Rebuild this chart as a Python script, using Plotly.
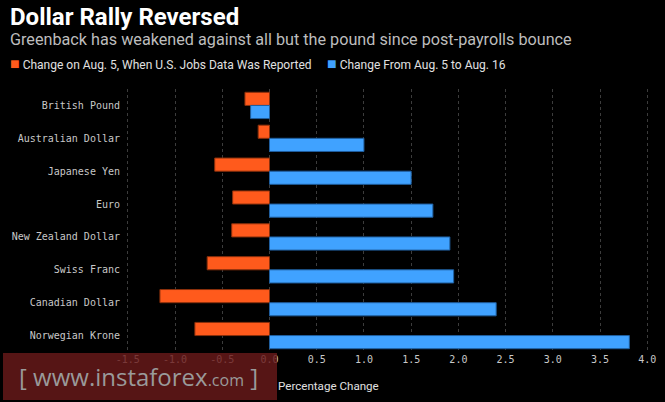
import plotly.graph_objects as go

currencies = ["British Pound", "Australian Dollar", "Japanese Yen", "Euro",
              "New Zealand Dollar", "Swiss Franc", "Canadian Dollar", "Norwegian Krone"]
aug5_change = [-0.26, -0.12, -0.58, -0.39, -0.40, -0.66, -1.16, -0.79]
aug5_to_16_change = [-0.20, 1.00, 1.50, 1.73, 1.91, 1.95, 2.40, 3.81]
x_ticks = [-1.5, -1.0, -0.5, 0.0, 0.5, 1.0, 1.5, 2.0, 2.5, 3.0, 3.5, 4.0]

W, H = 665, 402
L, R, T, B = 125, 13, 89, 50
PW, PH = W - L - R, H - T - B

def px(x):
    return (x - L) / PW

def py(y):
    return (H - B - y) / PH

ORANGE = "#ff5a1c"
BLUE = "#40a2ff"

fig = go.Figure()
fig.add_trace(go.Bar(y=currencies, x=aug5_change, orientation="h",
                     name="Change on Aug. 5, When U.S. Jobs Data Was Reported",
                     marker=dict(color=ORANGE, line=dict(color="#8a300c", width=1))))
fig.add_trace(go.Bar(y=currencies, x=aug5_to_16_change, orientation="h",
                     name="Change From Aug. 5 to Aug. 16",
                     marker=dict(color=BLUE, line=dict(color="#1f5e9e", width=1))))

fig.update_layout(
    width=W, height=H,
    margin=dict(l=L, r=R, t=T, b=B, autoexpand=False),
    paper_bgcolor="black", plot_bgcolor="black",
    barmode="group", bargap=0.2, bargroupgap=0,
    showlegend=False,
    font=dict(family="DejaVu Sans Mono", size=10, color="#c8c8c8"),
)
fig.update_xaxes(range=[-1.53, 4.05], tickvals=x_ticks,
                 ticktext=[f"{v:.1f}" for v in x_ticks],
                 showgrid=True, gridcolor="#3c3c3c", griddash="dot", gridwidth=1,
                 zeroline=False, showline=False, ticks="", automargin=False)
fig.update_yaxes(autorange="reversed", showgrid=False, zeroline=False,
                 ticks="", ticklabelstandoff=4, automargin=False)

# titles
fig.add_annotation(text="<b>Dollar Rally Reversed</b>", xref="paper", yref="paper",
                   x=px(8), y=py(1), xanchor="left", yanchor="top", showarrow=False,
                   font=dict(family="Roboto", size=24, color="white"))
fig.add_annotation(text="Greenback has weakened against all but the pound since post-payrolls bounce",
                   xref="paper", yref="paper", x=px(8), y=py(28), xanchor="left", yanchor="top",
                   showarrow=False, font=dict(family="Roboto", size=16.2, color="#bdbdbd"))

# legend
fig.add_annotation(text=f"<span style='color:{ORANGE};font-size:16px'>■</span> Change on Aug. 5, When U.S. Jobs Data Was Reported",
                   xref="paper", yref="paper", x=px(8), y=py(52), xanchor="left", yanchor="top",
                   showarrow=False, font=dict(family="Roboto", size=12, color="#e0e0e0"))
fig.add_annotation(text=f"<span style='color:{BLUE};font-size:16px'>■</span> Change From Aug. 5 to Aug. 16",
                   xref="paper", yref="paper", x=px(325), y=py(52), xanchor="left", yanchor="top",
                   showarrow=False, font=dict(family="Roboto", size=12, color="#e0e0e0"))

# x axis title
fig.add_annotation(text="Percentage Change", xref="paper", yref="paper",
                   x=px(276), y=py(377), xanchor="left", yanchor="top", showarrow=False,
                   font=dict(family="Roboto", size=11.6, color="#e0e0e0"))

# watermark
fig.add_shape(type="rect", xref="paper", yref="paper",
              x0=px(3), x1=px(277), y0=py(400), y1=py(353),
              fillcolor="rgba(105,26,26,0.82)", line=dict(width=0), layer="above")
fig.add_annotation(text="[ www.instaforex<span style='font-size:16px'>.com</span> ]",
                   xref="paper", yref="paper", x=px(138), y=py(376), xanchor="center",
                   yanchor="middle", showarrow=False,
                   font=dict(family="Open Sans", size=24, color="#9a9a9a"))

fig.write_html("out.html", config={"displayModeBar": False},
               post_script="document.body.style.margin='0';")
